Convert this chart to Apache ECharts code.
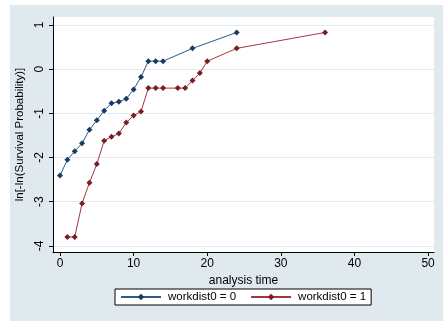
<!DOCTYPE html>
<html>
<head>
<meta charset="utf-8">
<script src="https://cdn.jsdelivr.net/npm/echarts@6/dist/echarts.min.js"></script>
<style>
    html, body { margin: 0; padding: 0; background: #fff; }
    #chart { width: 443px; height: 321px; }
</style>
</head>
<body>
<div id="chart"></div>
<script>
// analysis time (x) and ln[-ln(S)] (y)
var timeDist0 = [0, 1, 2, 3, 4, 5, 6, 7, 8, 9, 10, 11, 12, 13, 14, 18, 24];
var valsDist0 = [-2.41, -2.05, -1.86, -1.68, -1.37, -1.16, -0.94, -0.77, -0.74, -0.67, -0.46, -0.18, 0.18, 0.18, 0.18, 0.47, 0.83];

var timeDist1 = [1, 2, 3, 4, 5, 6, 7, 8, 9, 10, 11, 12, 13, 14, 16, 17, 18, 19, 20, 24, 36];
var valsDist1 = [-3.80, -3.80, -3.04, -2.57, -2.15, -1.62, -1.53, -1.46, -1.21, -1.05, -0.96, -0.43, -0.43, -0.43, -0.43, -0.43, -0.26, -0.09, 0.18, 0.47, 0.83];

var xTicks = [0, 10, 20, 30, 40, 50];
var yTicks = [-4, -3, -2, -1, 0, 1];

function zip(xs, ys) {
    return xs.map(function (x, i) { return [x, ys[i]]; });
}

var font = "'Liberation Sans', Arial, sans-serif";
var myChart = echarts.init(document.getElementById('chart'), null, { renderer: 'canvas' });

var option = {
    backgroundColor: '#fff',
    animation: false,
    textStyle: { fontFamily: font },
    graphic: [{
        type: 'rect',
        z: -100,
        silent: true,
        shape: { x: 10, y: 5, width: 433, height: 316 },
        style: { fill: '#e0e9ed' }
    }],
    grid: {
        left: 53,
        top: 17,
        width: 381,
        height: 235,
        show: true,
        backgroundColor: '#fff',
        borderWidth: 0
    },
    legend: {
        left: 115,
        top: 289,
        padding: [2, 5, 2, 5],
        itemWidth: 40,
        itemHeight: 8,
        itemGap: 14,
        backgroundColor: '#fff',
        borderColor: '#000',
        borderWidth: 1,
        textStyle: { fontFamily: font, fontSize: 11.5, color: '#000', padding: [0, 0, 0, 2] },
        data: ['workdist0 = 0', 'workdist0 = 1']
    },
    xAxis: {
        type: 'value',
        min: -0.95,
        max: 50.8,
        name: 'analysis time',
        nameLocation: 'middle',
        nameGap: 15,
        nameTextStyle: { fontFamily: font, fontSize: 12, color: '#000' },
        axisLine: { show: true, onZero: false, lineStyle: { color: '#000', width: 1 } },
        axisTick: { show: true, length: 4, customValues: xTicks, lineStyle: { color: '#000' } },
        axisLabel: { customValues: xTicks, margin: 6, fontSize: 12, color: '#000', fontFamily: font },
        splitLine: { show: false }
    },
    yAxis: {
        type: 'value',
        min: -4.14,
        max: 1.18,
        name: 'ln[-ln(Survival Probability)]',
        nameLocation: 'middle',
        nameRotate: 90,
        nameGap: 25,
        nameTextStyle: { fontFamily: font, fontSize: 11.5, color: '#000' },
        axisLine: { show: true, onZero: false, lineStyle: { color: '#000', width: 1 } },
        axisTick: { show: true, length: 4, customValues: yTicks, lineStyle: { color: '#000' } },
        axisLabel: { customValues: yTicks, rotate: 90, margin: 7, fontSize: 12, color: '#000', fontFamily: font },
        splitLine: { show: true, lineStyle: { color: '#e3ebf0', width: 1 } }
    },
    series: [{
        name: 'workdist0 = 0',
        type: 'line',
        symbol: 'diamond',
        symbolSize: 6,
        lineStyle: { color: '#2f5a88', width: 1 },
        itemStyle: { color: '#1a3a62' },
        data: zip(timeDist0, valsDist0)
    },
    {
        name: 'workdist0 = 1',
        type: 'line',
        symbol: 'diamond',
        symbolSize: 6,
        lineStyle: { color: '#a0383f', width: 1 },
        itemStyle: { color: '#7c1c22' },
        data: zip(timeDist1, valsDist1)
    }]
};

myChart.setOption(option);
</script>
</body>
</html>
